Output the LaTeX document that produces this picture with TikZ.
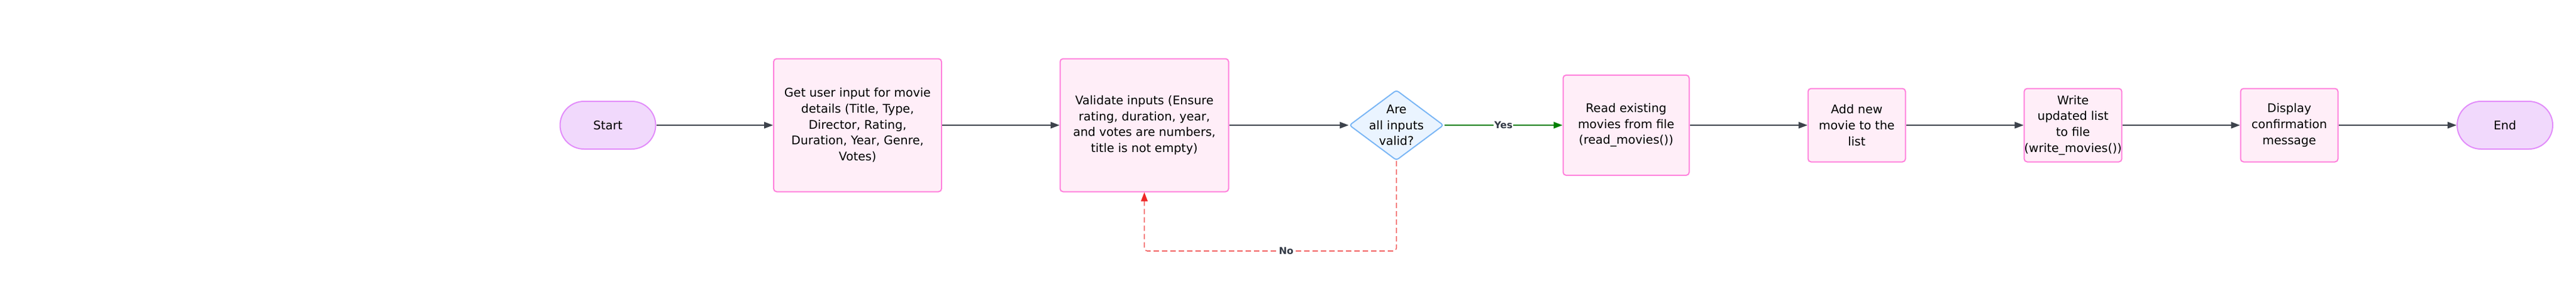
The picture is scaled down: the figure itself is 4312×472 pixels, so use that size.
\documentclass[tikz,border=0pt]{standalone}
\usepackage{fontspec}
\setmainfont{DejaVu Sans}
\usetikzlibrary{arrows.meta,shapes.geometric}
\definecolor{boxfill}{RGB}{255,238,248}
\definecolor{boxdraw}{RGB}{255,128,220}
\definecolor{termfill}{RGB}{241,217,252}
\definecolor{termdraw}{RGB}{226,140,250}
\definecolor{decfill}{RGB}{234,244,255}
\definecolor{decdraw}{RGB}{122,182,245}
\definecolor{edgegray}{RGB}{60,66,75}
\definecolor{labgray}{RGB}{51,58,70}
\definecolor{yesgreen}{RGB}{0,128,0}
\definecolor{nored}{RGB}{238,40,40}
\tikzset{
  every node/.style={font=\fontsize{20}{26.7}\selectfont, text=black},
  procbox/.style={draw=boxdraw, fill=boxfill, line width=2pt, rounded corners=5pt, align=center, inner sep=0pt},
  termbox/.style={draw=termdraw, fill=termfill, line width=2pt, rounded corners=40pt, align=center, inner sep=0pt, minimum width=160pt, minimum height=80pt},
  decbox/.style={diamond, draw=decdraw, fill=decfill, line width=2pt, rounded corners=4pt, inner sep=0pt, minimum width=158pt, minimum height=118pt},
  flow/.style={draw=edgegray, line width=1.6pt, -{Triangle[length=15pt,width=11pt]}},
  yesflow/.style={draw=yesgreen, line width=2pt, -{Triangle[length=15pt,width=11pt]}},
  noflow/.style={draw=nored!75, line width=1.6pt, dash pattern=on 9pt off 5pt, rounded corners=5pt, -{Triangle[length=15pt,width=11pt,fill=nored,color=nored]}},
  elabel/.style={font=\fontsize{16}{18}\selectfont\bfseries, text=labgray, fill=white, inner sep=1pt}
}
\begin{document}
\begin{tikzpicture}[x=1pt,y=-1pt]
\useasboundingbox (0,0) rectangle (4312,472);
\node[termbox] (start) at (1017.5,210) {Start};
\node[procbox, minimum width=281pt, minimum height=223pt] (get) at (1435.5,210) {Get user input for movie\\details (Title, Type,\\Director, Rating,\\Duration, Year, Genre,\\Votes)};
\node[procbox, minimum width=282pt, minimum height=223pt] (validate) at (1915.5,210) {Validate inputs (Ensure\\rating, duration, year,\\and votes are numbers,\\title is not empty)};
\node[decbox] (dec) at (2337.5,210) {};
\node[align=center, inner sep=0pt] (dectext) at (dec.center) {Are\\all inputs\\valid?};
\node[procbox, minimum width=211pt, minimum height=168pt] (read) at (2722,210) {Read existing\\movies from file\\(read\_movies())};
\node[procbox, minimum width=163pt, minimum height=123pt] (add) at (3108,210) {Add new\\movie to the\\list};
\node[procbox, minimum width=162pt, minimum height=123pt] (write) at (3470,210) {Write\\updated list\\to file\\(write\_movies())};
\node[procbox, minimum width=163pt, minimum height=123pt] (display) at (3832,210) {Display\\confirmation\\message};
\node[termbox] (end) at (4193,210) {End};
\coordinate (loopr) at (2337.5,421);
\coordinate (loopl) at (1915.5,421);
\draw[flow] (start.east) -- (get.west);
\draw[flow] (get.east) -- (validate.west);
\draw[flow] (validate.east) -- (dec.west);
\draw[yesflow] (dec.east) -- node[elabel, pos=0.5] {Yes} (read.west);
\draw[flow] (read.east) -- (add.west);
\draw[flow] (add.east) -- (write.west);
\draw[flow] (write.east) -- (display.west);
\draw[flow] (display.east) -- (end.west);
\draw[noflow] (dec.south) -- (loopr) -- (loopl) -- (validate.south);
\node[elabel] (nolab) at (2153,421) {No};
\end{tikzpicture}
\end{document}
